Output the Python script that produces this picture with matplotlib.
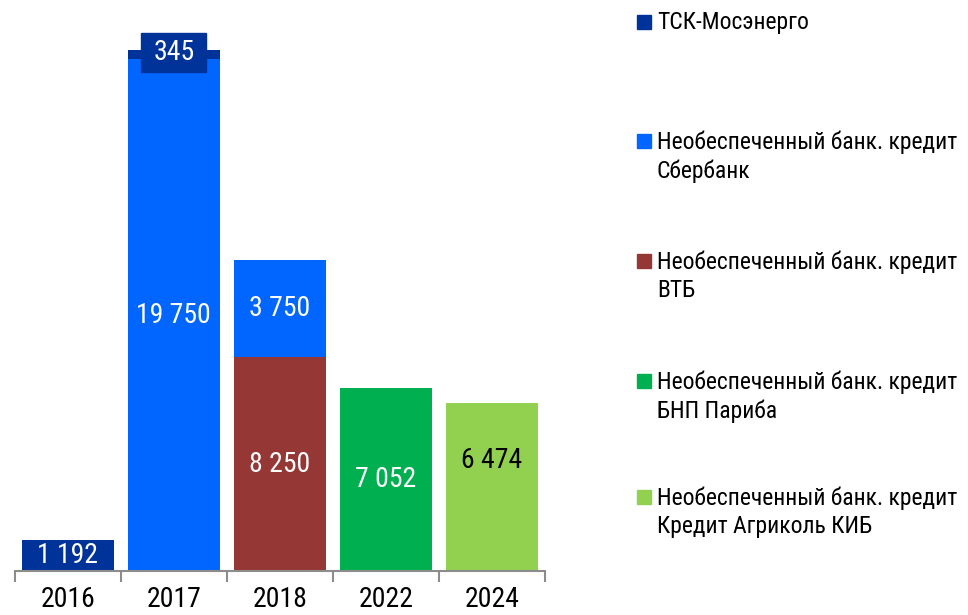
import matplotlib
matplotlib.use("Agg")
import matplotlib.pyplot as plt
from matplotlib.patches import Rectangle

plt.rcParams['font.family'] = ['Roboto Condensed', 'Liberation Sans', 'DejaVu Sans']

years = ['2016', '2017', '2018', '2022', '2024']
series_names = [
    'ТСК-Мосэнерго',
    'Необеспеченный банк. кредит\nСбербанк',
    'Необеспеченный банк. кредит\nВТБ',
    'Необеспеченный банк. кредит\nБНП Париба',
    'Необеспеченный банк. кредит\nКредит Агриколь КИБ',
]
tsk = [1192, 345, 0, 0, 0]
sber = [0, 19750, 3750, 0, 0]
vtb = [0, 0, 8250, 0, 0]
bnp = [0, 0, 0, 7052, 0]
agricole = [0, 0, 0, 0, 6474]
colors = ['#003399', '#0066FF', '#953735', '#00B050', '#92D050']

# stacking order bottom -> top
stack = [(vtb, colors[2]), (bnp, colors[3]), (agricole, colors[4]), (sber, colors[1]), (tsk, colors[0])]

fig = plt.figure(figsize=(9.68, 6.15), dpi=100)
ax = fig.add_axes([14.7/968, 44/615, 530.3/968, 571/615])
x = list(range(len(years)))
bottom = [0]*len(years)
px_per_unit = 0.02592
FS = 20
for vals, c in stack:
    ax.bar(x, vals, 0.868, bottom=bottom, color=c, edgecolor='none', zorder=2)
    for i, v in enumerate(vals):
        if v <= 0:
            continue
        cy = bottom[i] + v/2
        tcol = 'white'
        if c == colors[4]:
            cy = bottom[i] + v*0.66
            tcol = 'black'
        label = f"{v:,}".replace(',', ' ')
        if v < 1000 and c == colors[0]:
            bw, bh = 65/106.06, 39/px_per_unit
            ax.add_patch(Rectangle((i - bw/2 - 0.005, cy - bh/2 + 100), bw, bh, color=c, zorder=3, clip_on=False))
            ax.text(i, cy + 100, label, ha='center', va='center', color='white', fontsize=FS, zorder=4)
        else:
            ax.text(i, cy, label, ha='center', va='center', color=tcol, fontsize=FS, zorder=4)
    bottom = [b + v for b, v in zip(bottom, vals)]

ax.set_xlim(-0.5, len(years) - 0.5)
ax.set_ylim(0, 571/px_per_unit)
for s in ['top', 'right', 'left']:
    ax.spines[s].set_visible(False)
ax.spines['bottom'].set_color('#8c8c8c')
ax.spines['bottom'].set_linewidth(1.5)
ax.set_yticks([])
ax.set_xticks([i - 0.5 for i in range(len(years) + 1)])
ax.set_xticklabels([])
ax.tick_params(axis='x', which='major', length=8, width=1.5, color='#8c8c8c')
ax.set_xticks(x, minor=True)
ax.set_xticklabels(years, minor=True, fontsize=FS)
ax.tick_params(axis='x', which='minor', length=0, pad=11)

# legend
leg_y = [22, 141, 261, 381, 497]
for name, c, yy in zip(series_names, colors, leg_y):
    fig.patches.append(Rectangle((637/968, 1 - (yy + 7)/615), 14/968, 14/615, transform=fig.transFigure, color=c, figure=fig))
    fig.text(657/968, 1 - (yy - 11)/615, name, ha='left', va='top', fontsize=17, linespacing=1.3)

fig.savefig('out.png', dpi=100)
